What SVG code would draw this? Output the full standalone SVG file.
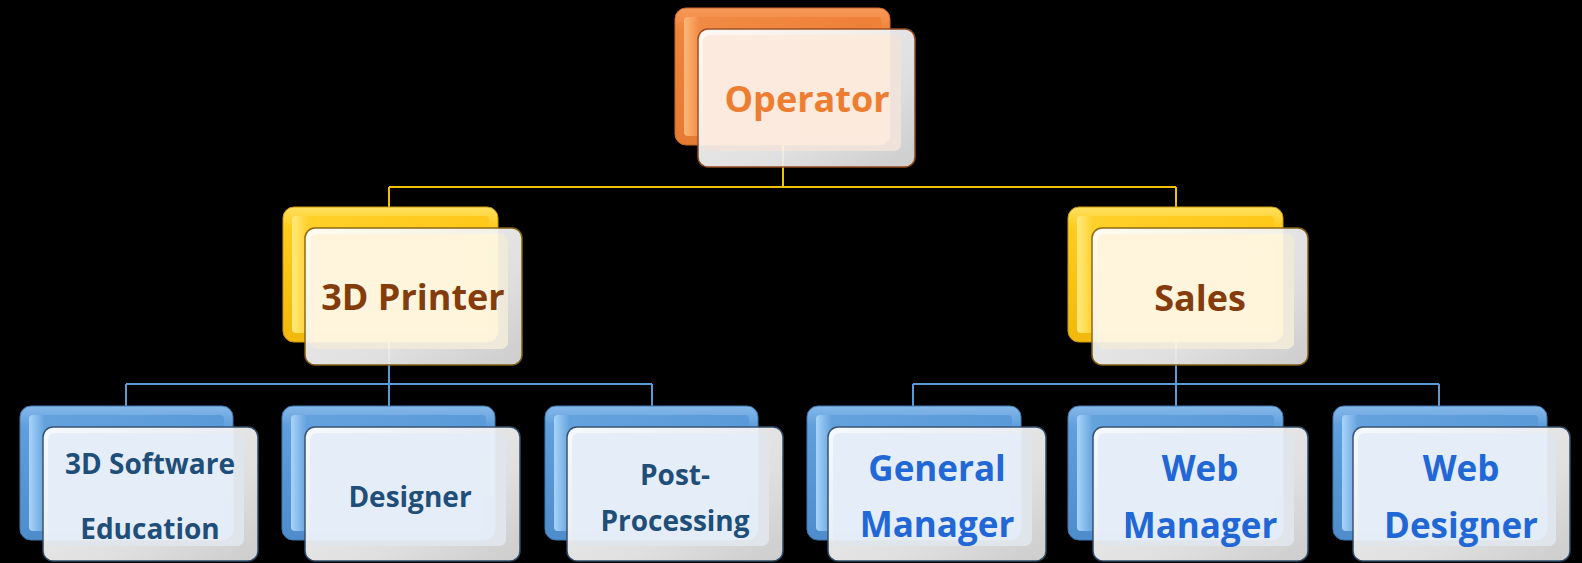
<svg xmlns="http://www.w3.org/2000/svg" width="1582" height="563" viewBox="0 0 1582 563">
<defs>
<linearGradient id="gOr" x1="0" y1="0" x2="0" y2="1"><stop offset="0" stop-color="#F79A5A"/><stop offset="0.15" stop-color="#F0843C"/><stop offset="1" stop-color="#E57A32"/></linearGradient>
<linearGradient id="gOrIn" x1="0" y1="0" x2="1" y2="0"><stop offset="0" stop-color="#FFB878"/><stop offset="0.08" stop-color="#F08A44"/><stop offset="1" stop-color="#EE8038"/></linearGradient>
<linearGradient id="gYe" x1="0" y1="0" x2="0" y2="1"><stop offset="0" stop-color="#FFE060"/><stop offset="0.15" stop-color="#FFCC1E"/><stop offset="1" stop-color="#F2B80C"/></linearGradient>
<linearGradient id="gYeIn" x1="0" y1="0" x2="1" y2="0"><stop offset="0" stop-color="#FFEA80"/><stop offset="0.08" stop-color="#FFD02A"/><stop offset="1" stop-color="#FFC81A"/></linearGradient>
<linearGradient id="gBl" x1="0" y1="0" x2="0" y2="1"><stop offset="0" stop-color="#86B8EA"/><stop offset="0.15" stop-color="#5F9FDC"/><stop offset="1" stop-color="#4E8CCB"/></linearGradient>
<linearGradient id="gBlIn" x1="0" y1="0" x2="1" y2="0"><stop offset="0" stop-color="#A8D4FA"/><stop offset="0.08" stop-color="#64A2DE"/><stop offset="1" stop-color="#5A9AD8"/></linearGradient>
<linearGradient id="gBevel" x1="0" y1="0" x2="1" y2="1"><stop offset="0" stop-color="#FFFFFF"/><stop offset="0.6" stop-color="#F0F0F0"/><stop offset="1" stop-color="#DADADA"/></linearGradient>
<style>
.conY{stroke:#F2C200;stroke-width:2;fill:none}
.conB{stroke:#5B9BD5;stroke-width:2;fill:none}
.front{opacity:0.94}
.t{font-family:"Open Sans","Noto Sans","Liberation Sans",sans-serif;font-weight:bold;text-anchor:middle}
.tOp{font-size:36px;fill:#ED7D31}
.tPa{font-size:36px;fill:#843C0C}
.tCl{font-size:28px;fill:#1F4E79}
.tCr{font-size:35px;fill:#2167D6}
.bOr{fill:url(#gOr);stroke:#C86A2A;stroke-width:1}
.bYe{fill:url(#gYe);stroke:#C99A10;stroke-width:1}
.bBl{fill:url(#gBl);stroke:#3E78B0;stroke-width:1}
.iOr{fill:url(#gOrIn)}
.iYe{fill:url(#gYeIn)}
.iBl{fill:url(#gBlIn)}
.fOr{fill:url(#gBevel);stroke:#9C4E20;stroke-width:1.5}
.fYe{fill:url(#gBevel);stroke:#8A6410;stroke-width:1.5}
.fBl{fill:url(#gBevel);stroke:#34506C;stroke-width:1.5}
.pOr{fill:#FDF1E8}
.pYe{fill:#FEF8E8}
.pBl{fill:#EEF3FA}
</style>
</defs>
<rect x="0" y="0" width="1582" height="563" fill="#000000"/>

<g id="connectors">
<path class="conY" d="M783,145 V187 M389,187 H1176 M389,187 V207 M1176,187 V207"/>
<path class="conB" d="M389,342 V384 M126,384 H652 M126,384 V406 M389,384 V406 M652,384 V406"/>
<path class="conB" d="M1176,342 V384 M913,384 H1439 M913,384 V406 M1176,384 V406 M1439,384 V406"/>
</g>

<g id="operator">
<rect class="bOr" x="675" y="8" width="215" height="137" rx="11"/>
<rect class="iOr" x="684" y="17" width="197" height="119" rx="4"/>
<g class="front">
<rect class="fOr" x="698" y="29" width="217" height="138" rx="10"/>
<rect class="pOr" x="703" y="35" width="198" height="116" rx="7"/>
</g>
<text class="t tOp" x="807" y="112">Operator</text>
</g>

<g id="printer3d">
<rect class="bYe" x="283" y="207" width="215" height="135" rx="11"/>
<rect class="iYe" x="292" y="216" width="197" height="117" rx="4"/>
<g class="front">
<rect class="fYe" x="305" y="228" width="217" height="137" rx="10"/>
<rect class="pYe" x="310" y="234" width="198" height="115" rx="7"/>
</g>
<text class="t tPa" x="413" y="310">3D Printer</text>
</g>

<g id="sales">
<rect class="bYe" x="1068" y="207" width="215" height="135" rx="11"/>
<rect class="iYe" x="1077" y="216" width="197" height="117" rx="4"/>
<g class="front">
<rect class="fYe" x="1092" y="228" width="216" height="137" rx="10"/>
<rect class="pYe" x="1097" y="234" width="197" height="115" rx="7"/>
</g>
<text class="t tPa" x="1200" y="311">Sales</text>
</g>

<g id="software-education">
<rect class="bBl" x="20" y="406" width="213" height="134" rx="11"/>
<rect class="iBl" x="29" y="415" width="195" height="116" rx="4"/>
<g class="front">
<rect class="fBl" x="43" y="427" width="215" height="134" rx="10"/>
<rect class="pBl" x="48" y="433" width="196" height="113" rx="7"/>
</g>
<text class="t tCl" x="150" y="474">3D Software</text>
<text class="t tCl" x="150" y="539">Education</text>
</g>

<g id="designer">
<rect class="bBl" x="282" y="406" width="213" height="134" rx="11"/>
<rect class="iBl" x="291" y="415" width="195" height="116" rx="4"/>
<g class="front">
<rect class="fBl" x="305" y="427" width="215" height="134" rx="10"/>
<rect class="pBl" x="310" y="433" width="196" height="113" rx="7"/>
</g>
<text class="t tCl" x="410" y="507">Designer</text>
</g>

<g id="post-processing">
<rect class="bBl" x="545" y="406" width="213" height="134" rx="11"/>
<rect class="iBl" x="554" y="415" width="195" height="116" rx="4"/>
<g class="front">
<rect class="fBl" x="567" y="427" width="216" height="134" rx="10"/>
<rect class="pBl" x="572" y="433" width="197" height="113" rx="7"/>
</g>
<text class="t tCl" x="675" y="485">Post-</text>
<text class="t tCl" x="675" y="531">Processing</text>
</g>

<g id="general-manager">
<rect class="bBl" x="807" y="406" width="214" height="134" rx="11"/>
<rect class="iBl" x="816" y="415" width="196" height="116" rx="4"/>
<g class="front">
<rect class="fBl" x="828" y="427" width="218" height="134" rx="10"/>
<rect class="pBl" x="833" y="433" width="199" height="113" rx="7"/>
</g>
<text class="t tCr" x="937" y="481">General</text>
<text class="t tCr" x="937" y="537">Manager</text>
</g>

<g id="web-manager">
<rect class="bBl" x="1068" y="406" width="215" height="134" rx="11"/>
<rect class="iBl" x="1077" y="415" width="197" height="116" rx="4"/>
<g class="front">
<rect class="fBl" x="1093" y="427" width="215" height="134" rx="10"/>
<rect class="pBl" x="1098" y="433" width="196" height="113" rx="7"/>
</g>
<text class="t tCr" x="1200" y="481">Web</text>
<text class="t tCr" x="1200" y="538">Manager</text>
</g>

<g id="web-designer">
<rect class="bBl" x="1333" y="406" width="214" height="134" rx="11"/>
<rect class="iBl" x="1342" y="415" width="196" height="116" rx="4"/>
<g class="front">
<rect class="fBl" x="1353" y="427" width="217" height="134" rx="10"/>
<rect class="pBl" x="1358" y="433" width="198" height="113" rx="7"/>
</g>
<text class="t tCr" x="1461" y="481">Web</text>
<text class="t tCr" x="1461" y="538">Designer</text>
</g>
</svg>
